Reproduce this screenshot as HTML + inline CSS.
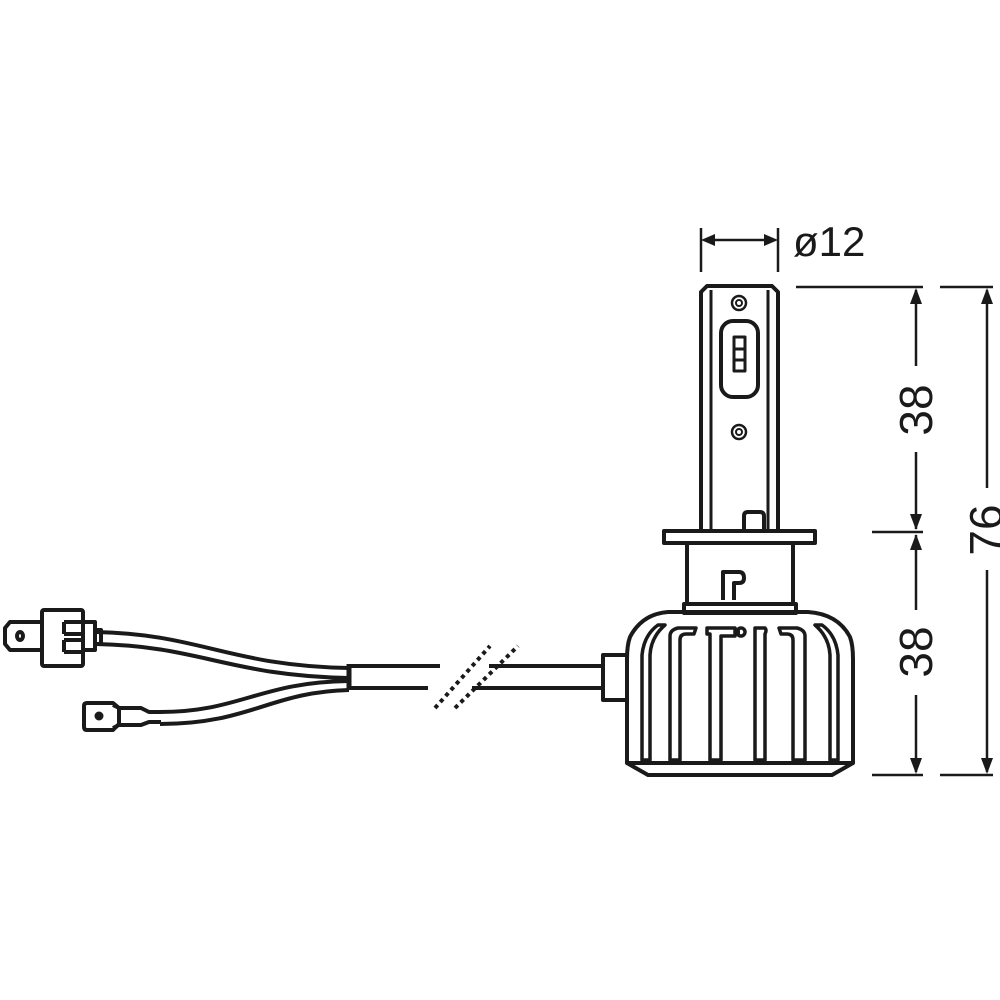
<!DOCTYPE html>
<html><head><style>html,body{margin:0;padding:0;background:#fff}svg{display:block}</style></head>
<body>
<svg width="1000" height="1000" viewBox="0 0 1000 1000" xmlns="http://www.w3.org/2000/svg">
<g fill="none" stroke="#1a1a1a" stroke-width="4" stroke-linejoin="round">
<!-- stem -->
<path d="M701 531 V292 l6 -6 H772 l6 6 V531"/>
<path d="M711 531 V290 M768 531 V290" stroke-width="3"/>
<circle cx="739" cy="303" r="7" stroke-width="2.5"/><circle cx="739" cy="303" r="3" stroke-width="2"/>
<circle cx="739" cy="432" r="7" stroke-width="2.5"/><circle cx="739" cy="432" r="3" stroke-width="2"/>
<rect x="721" y="321" width="37" height="76" rx="12"/>
<rect x="734" y="337" width="11" height="34" stroke-width="3"/>
<path d="M734 349 H745 M734 360 H745" stroke-width="3"/>
<path d="M744 530 V516 q0 -4 4 -4 h12 q4 0 4 4 V530"/>
<!-- flange -->
<rect x="664" y="531" width="151" height="12"/>
<rect x="687" y="543" width="106" height="61"/>
<path d="M723 600 V572 h16 q5 0 5 6 q0 5 -5 5 h-5 V600"/>
<rect x="684" y="604" width="112" height="9"/>
<!-- head -->
<path d="M668 612 H808 q30 2 42 25 q3 8 3 22 V763 H627 V659 q0 -14 3 -22 q12 -23 38 -25 Z"/>
<path d="M627 763 L648 775 H832 L853 763"/>
<!-- fins -->
<g stroke-width="3.5">
<path d="M642 760 V655 q2 -20 16 -30 h7 q-14 12 -15 30 V760 Z"/>
<path d="M670 760 V636 q0 -6 8 -8 h18 l-2 6 h-8 q-6 0 -6 6 V760 Z"/>
<path d="M710 760 V634 h-3 v-6 h28 v8 h-14 V760 Z"/>
<path d="M735 632 h5"/><circle cx="741" cy="632" r="4"/>
<path d="M755 760 V628 h10 q2 2 0 6 V760 Z"/>
<path d="M793 760 V640 q0 -6 -6 -6 h-6 l-2 -6 h18 q8 2 8 8 V760 Z"/>
<path d="M830 760 V655 q-1 -18 -15 -30 h7 q14 10 16 30 V760 Z"/>
</g>
<!-- side connector -->
<rect x="603" y="655" width="24" height="45"/>
<!-- cable -->
<path d="M349 666 H440 M489 666 H603 M349 688 H428 M472 688 H603"/>
<path d="M349 664 V690" stroke-width="5"/>
<!-- wires -->
<path d="M96 632 C200 634 230 666 349 668"/>
<path d="M96 644 C200 646 230 676 349 678" />
<path d="M160 712 C240 712 260 682 349 681"/>
<path d="M160 724 C250 724 270 692 349 690"/>
<!-- top connector -->
<rect x="42" y="610" width="41" height="56" rx="2"/>
<path d="M42 622 H10 l-5 6 v16 l5 6 H42"/>
<ellipse cx="20" cy="636" rx="3" ry="4"/>
<path d="M83 622 h12 v28 h-12 M64 622 h19 M64 634 h19 M64 640 h19 M64 652 h19" />
<path d="M64 622 V634 M64 640 V652"/>
<rect x="95" y="630" width="6" height="14"/>
<!-- bottom terminal -->
<path d="M113 703 H87 q-3 0 -3 3 v21 q0 3 3 3 H113 l6 -6 v-16 Z"/>
<circle cx="99" cy="716" r="2.5" fill="#1a1a1a"/>
<path d="M113 705 l6 3 h22 l8 4 h12 M113 728 l6 -3 h22 l8 -3 h12"/>
</g>
<!-- break marks -->
<g stroke="#1a1a1a" stroke-width="4" stroke-dasharray="4 4">
<line x1="435" y1="708" x2="490" y2="646"/>
<line x1="455" y1="708" x2="518" y2="646"/>
</g>
<!-- dimensions -->
<g stroke="#1a1a1a" stroke-width="2.5" fill="none">
<path d="M701 228 V272 M778 228 V272 M705 240 H774"/>
<path d="M796 287 H923 M940 287 H993 M872 532 H923 M872 775 H923 M940 775 H993"/>
<path d="M916 290 V366 M916 452 V529 M916 535 V610 M916 695 V772"/>
<path d="M987 290 V488 M987 570 V772"/>
</g>
<g fill="#1a1a1a">
<path d="M701 240 l14 -6 v12 Z M778 240 l-14 -6 v12 Z"/>
<path d="M916 288 l-6 16 h12 Z M916 530 l-6 -16 h12 Z M916 534 l-6 16 h12 Z M916 774 l-6 -16 h12 Z"/>
<path d="M987 288 l-6 16 h12 Z M987 774 l-6 -16 h12 Z"/>
</g>
<g font-family="Liberation Sans, sans-serif" fill="#1a1a1a">
<text x="793" y="256" font-size="42">ø12</text>
<text transform="translate(932 410) rotate(-90)" font-size="46" text-anchor="middle">38</text>
<text transform="translate(932 652) rotate(-90)" font-size="46" text-anchor="middle">38</text>
<text transform="translate(1002 530) rotate(-90)" font-size="46" text-anchor="middle">76</text>
</g>
</svg>
</body></html>
